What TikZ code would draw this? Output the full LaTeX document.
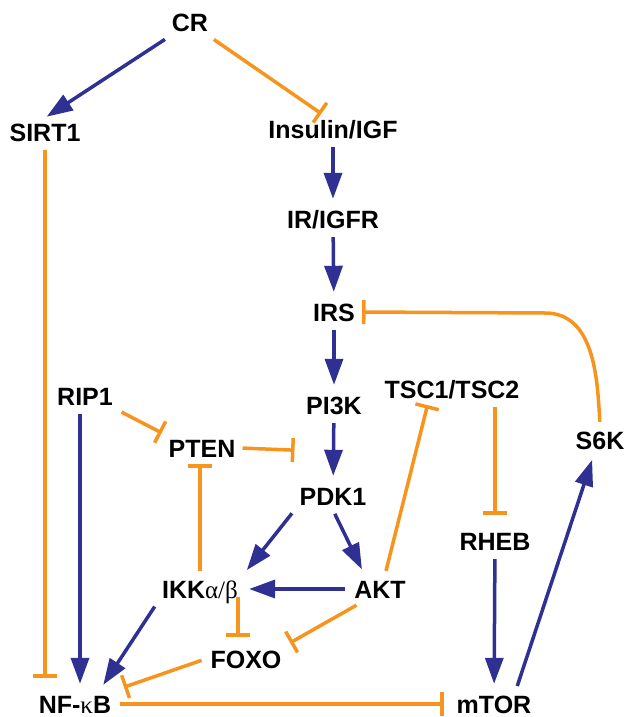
\documentclass[tikz,border=0pt]{standalone}
\usepackage{fontspec}
\setmainfont{Liberation Sans}
\newfontfamily\greekfont{Liberation Serif}
\usepackage{tikz}
\usetikzlibrary{arrows.meta, calc}
\definecolor{actblue}{HTML}{2E3192}
\definecolor{inhorange}{HTML}{F7941D}
\newcommand{\grk}[1]{{\greekfont\mdseries #1}}
\tikzstyle{gene} = [inner sep=5pt, text height=18pt, text depth=0pt, font=\fontsize{25}{30}\selectfont\bfseries]
\tikzstyle{act} = [draw=actblue, line width=3.5pt, -{Triangle[length=26pt, width=18pt]}, shorten <=4pt, shorten >=6pt]
\tikzstyle{inh} = [draw=inhorange, line width=3.5pt, -{Bar[width=24pt]}, shorten <=4pt, shorten >=8pt]

\begin{document}
\begin{tikzpicture}[x=1pt, y=-1pt]
		\useasboundingbox (0,0) rectangle (628,717);
		% signalling column
		\node[gene] (CR) at (190,23) {CR};
		\node[gene] (SIRT1) at (45,132) {SIRT1};
		\node[gene] (ins) at (333,129) {Insulin/IGF};
		\node[gene] (igfr) at (333,219) {IR/IGFR};
		\node[gene] (IRS) at (334,312) {IRS};
		\node[gene] (PI3K) at (334,405) {PI3K};
		\node[gene] (PDK1) at (333,496) {PDK1};
		% side branches
		\node[gene] (RIP1) at (85,396) {RIP1};
		\node[gene] (PTEN) at (202,448) {PTEN};
		\node[gene] (tsc) at (452,389) {TSC1/TSC2};
		\node[gene] (S6K) at (600,440) {S6K};
		\node[gene] (IKK) at (200,589) {IKK\grk{α/β}};
		\node[gene] (AKT) at (380,589) {AKT};
		\node[gene] (FOXO) at (246,659) {FOXO};
		\node[gene] (RHEB) at (495,541) {RHEB};
		\node[gene] (nfkb) at (75,704) {NF-\grk{κ}B};
		\node[gene] (mTOR) at (494,704) {mTOR};
		\coordinate (pipdk) at ($(PI3K)!.5!(PDK1)+(-31,0)$);
		\coordinate (irsturn) at (545,313);

		\draw[act, shorten >=2pt] (CR) -- (SIRT1.north);
		\draw[inh, shorten >=2pt] (CR) -- ([xshift=-10pt]ins.north);
		\draw[inh, shorten >=12pt] (SIRT1.south) -- (SIRT1.south |- nfkb.north);
		\draw[act] (ins) -- (igfr);
		\draw[act] (igfr) -- (IRS);
		\draw[act] (IRS) -- (PI3K);
		\draw[act] (PI3K) -- (PDK1);
		\draw[inh, shorten <=2pt] (PTEN.east) -- (pipdk);
		\draw[inh, shorten >=2pt] (S6K.north) to[out=93, in=0] (irsturn) -- (IRS.east);
		\draw[inh, shorten >=2pt] (RIP1.south east) -- (PTEN.north west);
		\draw[act] ([xshift=-5pt]RIP1.south) -- ([xshift=-5pt]RIP1.south |- nfkb.north);
		\draw[inh, shorten >=2pt] (IKK.north) -- (IKK.north |- PTEN.south);
		\draw[act] (PDK1.south west) -- (IKK.north east);
		\draw[act] (PDK1.south) -- ($(AKT.north west)!.5!(AKT.north)$);
		\draw[act] (AKT.west) -- (IKK.east);
		\draw[inh, shorten >=2pt] ([xshift=5pt]AKT.north) -- ([xshift=-24pt]tsc.south);
		\draw[inh, shorten >=12pt] (tsc.south -| RHEB.north) -- (RHEB.north);
		\draw[act] (RHEB) -- (mTOR);
		\draw[act] ([xshift=22pt]mTOR.north) -- ([xshift=-6pt]S6K.south);
		\draw[inh, shorten >=4pt] ([xshift=-20pt]AKT.south) -- (FOXO.north east);
		\draw[inh, shorten <=-6pt] ([xshift=38pt]IKK.south) -- ([xshift=38pt]IKK.south |- FOXO.north);
		\draw[act] (IKK.south west) -- ([xshift=25pt]nfkb.north);
		\draw[inh] (FOXO.west) -- (nfkb.north east);
		\draw[inh] (nfkb.east) -- (mTOR.west);
	\end{tikzpicture}
\end{document}
